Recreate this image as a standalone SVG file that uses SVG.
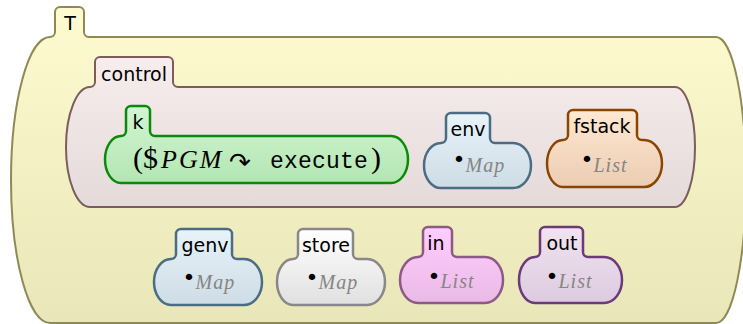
<svg xmlns="http://www.w3.org/2000/svg" width="743" height="324" viewBox="0 0 743 324">
  <style>
    .cell { stroke-linejoin: round; }
    .lbl { font-family: "DejaVu Sans", sans-serif; font-size: 19px; fill: #000; text-anchor: middle; }
    .sort { font-family: "Liberation Serif", serif; font-style: italic; font-size: 20px; fill: #858585; }
    .dot { font-family: "DejaVu Sans", sans-serif; font-style: normal; font-size: 22px; fill: #000; }
    .math { font-family: "Liberation Serif", serif; font-size: 30px; fill: #000; }
    .mi { font-family: "Liberation Serif", serif; font-style: italic; font-size: 26px; fill: #000; }
    .tt { font-family: "Liberation Mono", monospace; font-size: 23px; fill: #000; }
    .arr { font-family: "DejaVu Sans", sans-serif; font-size: 26px; fill: #000; }
  </style>
  <defs>
    <linearGradient id="gT" x1="0" y1="0" x2="0" y2="1"><stop offset="0" stop-color="#fdfbcf"/><stop offset="1" stop-color="#e9e6b9"/></linearGradient>
    <linearGradient id="gCtl" x1="0" y1="0" x2="0" y2="1"><stop offset="0" stop-color="#f8eded"/><stop offset="1" stop-color="#e5dada"/></linearGradient>
    <linearGradient id="gK" x1="0" y1="0" x2="0" y2="1"><stop offset="0" stop-color="#d2f5d2"/><stop offset="1" stop-color="#b3e6b3"/></linearGradient>
    <linearGradient id="gBlue" x1="0" y1="0" x2="0" y2="1"><stop offset="0" stop-color="#e8f3fa"/><stop offset="1" stop-color="#cedce5"/></linearGradient>
    <linearGradient id="gOrange" x1="0" y1="0" x2="0" y2="1"><stop offset="0" stop-color="#ffe8d3"/><stop offset="1" stop-color="#ebcdb2"/></linearGradient>
    <linearGradient id="gWhite" x1="0" y1="0" x2="0" y2="1"><stop offset="0" stop-color="#ffffff"/><stop offset="1" stop-color="#e0e0e0"/></linearGradient>
    <linearGradient id="gPink" x1="0" y1="0" x2="0" y2="1"><stop offset="0" stop-color="#ffcdff"/><stop offset="1" stop-color="#eabae6"/></linearGradient>
    <linearGradient id="gPurple" x1="0" y1="0" x2="0" y2="1"><stop offset="0" stop-color="#f1e3f1"/><stop offset="1" stop-color="#dccbdf"/></linearGradient>
  </defs>

  <!-- top-level configuration cell -->
  <g id="T">
    <path class="cell" fill="url(#gT)" stroke="#8f8a55" stroke-width="2"
      d="M55,32 L55,12 A5,5 0 0 1 60,7 L79,7 A5,5 0 0 1 84,12 L84,32 A5,5 0 0 0 89,37 L716,37 A30,143 0 0 1 716,323 L50,323 A39,143 0 0 1 50,37 A5,5 0 0 0 55,32 Z"/>
    <text class="lbl" x="70" y="30">T</text>
  </g>

  <g id="control">
    <path class="cell" fill="url(#gCtl)" stroke="#7d5c5c" stroke-width="2"
      d="M95,82 L95,62 A5,5 0 0 1 100,57 L168,57 A5,5 0 0 1 173,62 L173,82 A5,5 0 0 0 178,87 L675,87 A20,60 0 0 1 675,207 L90,207 A24,60 0 0 1 90,87 A5,5 0 0 0 95,82 Z"/>
    <text class="lbl" x="134" y="81">control</text>
  </g>

  <g id="k">
    <path class="cell" fill="url(#gK)" stroke="#0a8a0a" stroke-width="2.5"
      d="M126,131 L126,111 A5,5 0 0 1 131,106 L145,106 A5,5 0 0 1 150,111 L150,131 A5,5 0 0 0 155,136 L391,136 A17,23.5 0 0 1 391,183 L121,183 A16,23.5 0 0 1 121,136 A5,5 0 0 0 126,131 Z"/>
    <text class="lbl" x="138" y="129">k</text>
    <!-- ($PGM ~> execute) -->
    <text y="168"><tspan class="math" x="133">(</tspan><tspan class="math" x="143">$</tspan><tspan class="mi" x="161" letter-spacing="2">PGM</tspan><tspan class="arr" x="229" y="171">↷</tspan><tspan class="tt" x="270" y="168" letter-spacing="0.2">execute</tspan><tspan class="math" x="371">)</tspan></text>
  </g>

  <g id="env">
    <path class="cell" fill="url(#gBlue)" stroke="#4b6d84" stroke-width="2.5"
      d="M446,138 L446,118 A5,5 0 0 1 451,113 L485,113 A5,5 0 0 1 490,118 L490,138 A5,5 0 0 0 495,143 L513,143 A18,22.5 0 0 1 513,188 L441,188 A17,22.5 0 0 1 441,143 A5,5 0 0 0 446,138 Z"/>
    <text class="lbl" x="468" y="136">env</text>
    <text class="sort"><tspan class="dot" x="452.5" y="167">•</tspan><tspan y="172" letter-spacing="1">Map</tspan></text>
  </g>

  <g id="fstack">
    <path class="cell" fill="url(#gOrange)" stroke="#8a4600" stroke-width="2.5"
      d="M568,135 L568,115 A5,5 0 0 1 573,110 L632,110 A5,5 0 0 1 637,115 L637,135 A5,5 0 0 0 642,140 L644,140 A18,23.5 0 0 1 644,187 L563,187 A16,23.5 0 0 1 563,140 A5,5 0 0 0 568,135 Z"/>
    <text class="lbl" x="602" y="133">fstack</text>
    <text class="sort"><tspan class="dot" x="580.5" y="167">•</tspan><tspan y="172" letter-spacing="1">List</tspan></text>
  </g>

  <g id="genv">
    <path class="cell" fill="url(#gBlue)" stroke="#4b6d84" stroke-width="2.5"
      d="M176,254 L176,234 A5,5 0 0 1 181,229 L227,229 A5,5 0 0 1 232,234 L232,254 A5,5 0 0 0 237,259 L244,259 A18,23 0 0 1 244,305 L171,305 A17,23 0 0 1 171,259 A5,5 0 0 0 176,254 Z"/>
    <text class="lbl" x="205" y="252">genv</text>
    <text class="sort"><tspan class="dot" x="182.5" y="285">•</tspan><tspan y="289" letter-spacing="1">Map</tspan></text>
  </g>

  <g id="store">
    <path class="cell" fill="url(#gWhite)" stroke="#888888" stroke-width="2.5"
      d="M298,254 L298,234 A5,5 0 0 1 303,229 L348,229 A5,5 0 0 1 353,234 L353,254 A5,5 0 0 0 358,259 L367,259 A18,23 0 0 1 367,305 L293,305 A16,23 0 0 1 293,259 A5,5 0 0 0 298,254 Z"/>
    <text class="lbl" x="326" y="252">store</text>
    <text class="sort"><tspan class="dot" x="305.5" y="285">•</tspan><tspan y="289" letter-spacing="1">Map</tspan></text>
  </g>

  <g id="in">
    <path class="cell" fill="url(#gPink)" stroke="#8c5a82" stroke-width="2.5"
      d="M423,252 L423,232 A5,5 0 0 1 428,227 L447,227 A5,5 0 0 1 452,232 L452,252 A5,5 0 0 0 457,257 L485,257 A18,23 0 0 1 485,303 L418,303 A18,23 0 0 1 418,257 A5,5 0 0 0 423,252 Z"/>
    <text class="lbl" x="436" y="250">in</text>
    <text class="sort"><tspan class="dot" x="427.5" y="284">•</tspan><tspan y="288" letter-spacing="1">List</tspan></text>
  </g>

  <g id="out">
    <path class="cell" fill="url(#gPurple)" stroke="#6d3a79" stroke-width="2.5"
      d="M540,252 L540,232 A5,5 0 0 1 545,227 L578,227 A5,5 0 0 1 583,232 L583,252 A5,5 0 0 0 588,257 L604,257 A18,23 0 0 1 604,303 L535,303 A16,23 0 0 1 535,257 A5,5 0 0 0 540,252 Z"/>
    <text class="lbl" x="562" y="250">out</text>
    <text class="sort"><tspan class="dot" x="545.5" y="284">•</tspan><tspan y="288" letter-spacing="1">List</tspan></text>
  </g>
</svg>
